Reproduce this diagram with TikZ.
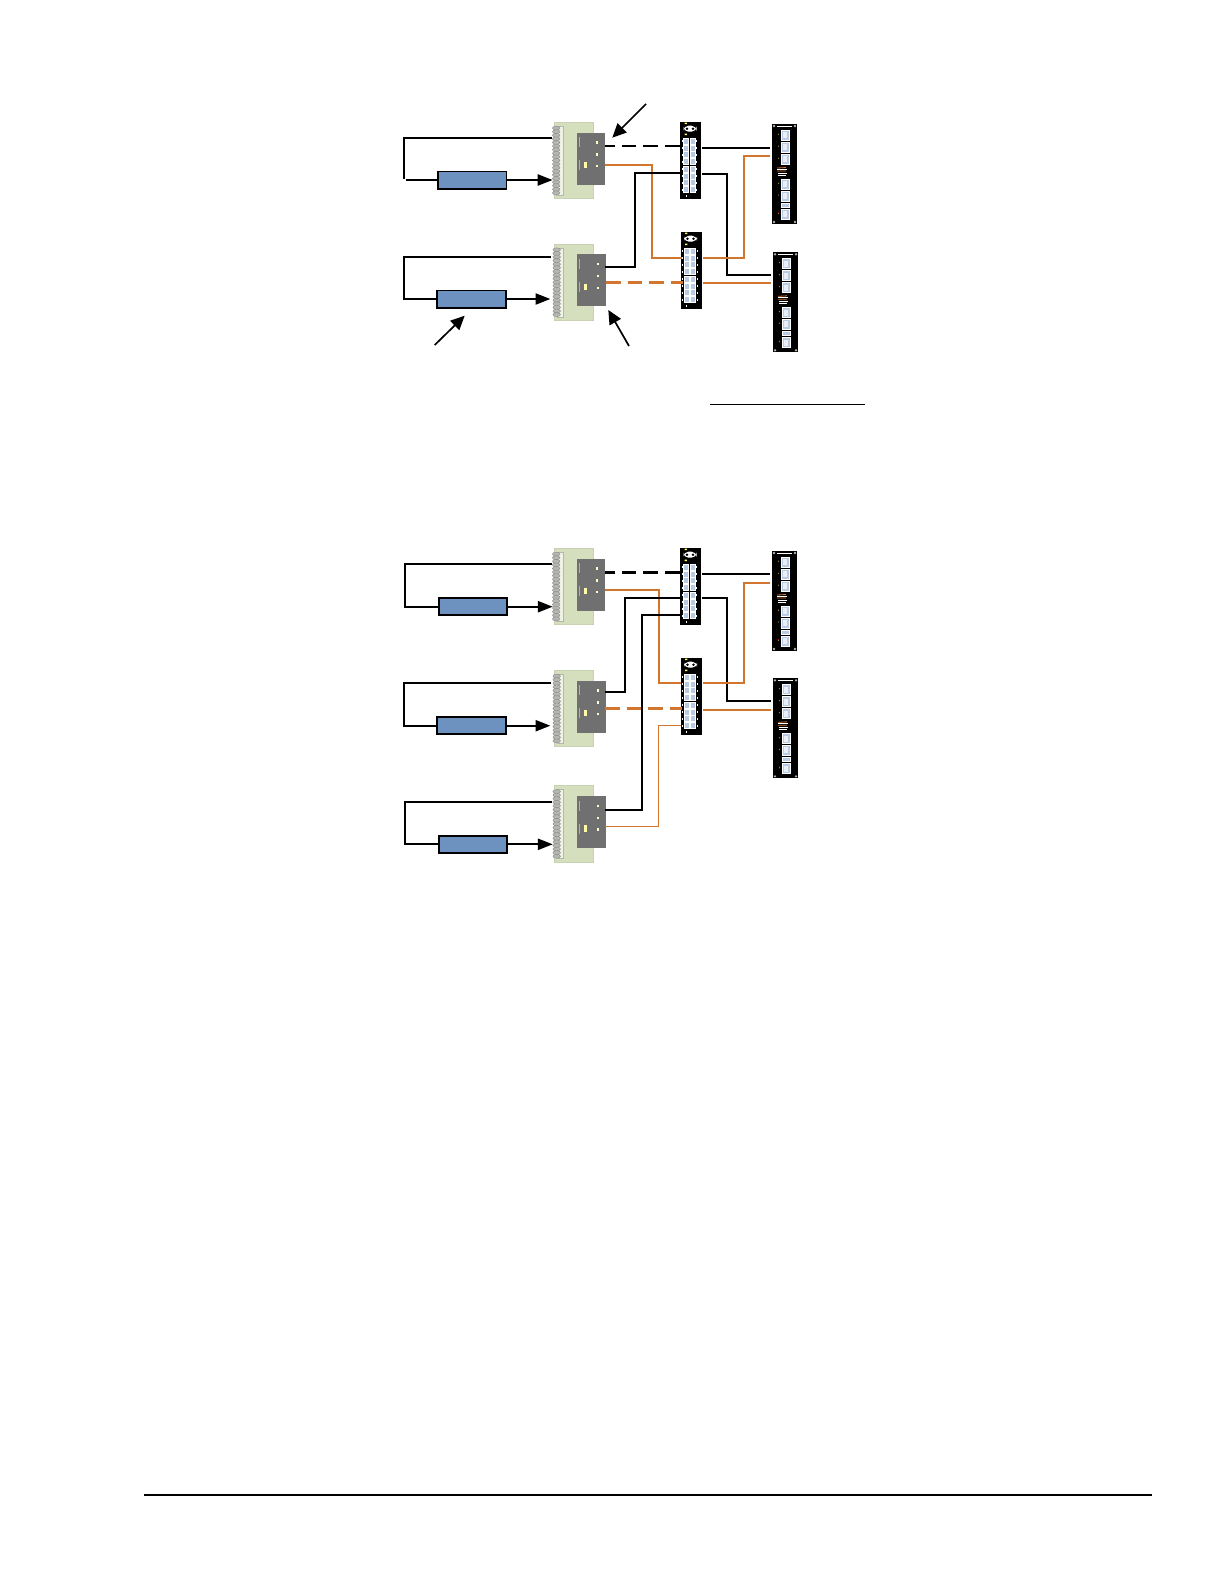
\documentclass[tikz,border=0pt]{standalone}
\usepackage{tikz}
\usetikzlibrary{arrows.meta}

\definecolor{cardgreen}{HTML}{D6DFBD}
\definecolor{stripgray}{HTML}{B4B6B0}
\definecolor{plategray}{HTML}{707070}
\definecolor{boxblue}{HTML}{6E92C0}
\definecolor{wireorange}{HTML}{D2752F}
\definecolor{portblue}{HTML}{B9CBE3}

\tikzset{
    cardbox/.style={draw=cardgreen!85!gray, line width=0.4pt, fill=cardgreen, inner sep=0pt, outer sep=0pt,
        anchor=north west, minimum width=19.5bp, minimum height=38.2bp},
    platebox/.style={fill=plategray, inner sep=0pt, outer sep=0pt,
        anchor=north west, minimum width=14.2bp, minimum height=26bp},
    switchbox/.style={fill=black, inner sep=0pt, outer sep=0pt,
        anchor=north west, minimum width=10.7bp, minimum height=38.2bp},
    panelbox/.style={fill=black, inner sep=0pt, outer sep=0pt,
        anchor=north west, minimum width=12.5bp, minimum height=50bp},
    bluebox/.style={draw=black, line width=0.9pt, fill=boxblue, inner sep=0pt, outer sep=0pt,
        minimum width=34.2bp, minimum height=8.6bp},
    wire/.style={draw=black, line width=0.85pt},
    orangewire/.style={draw=wireorange, line width=0.9pt},
    orangethin/.style={draw=wireorange, line width=0.55pt},
    dashblack/.style={draw=black, line width=1.3pt, dash pattern=on 7.4pt off 3.4pt, dash phase=2.4pt},
    dashorange/.style={draw=wireorange, line width=1.6pt, dash pattern=on 7.4pt off 3.4pt},
    feed/.style={wire, -{Triangle[length=7.4bp, width=5.6bp]}},
    pointer/.style={draw=black, line width=0.85pt, -{Triangle[length=7bp, width=6.4bp]}},
}

% terminal card with grey plate
\newcommand{\ioCard}[3]{
\begin{scope}[shift={(#2,#3)}]
    \node[cardbox] (#1) at (0,0) {};
    \draw[stripgray, fill=cardgreen!40!white, line width=0.4pt] (2.7,4) rectangle (9.3,73);
    \foreach \s in {0,...,18}
        \filldraw[fill=stripgray, draw=gray, line width=0.15pt] (2.2,5.8+3.6*\s) ellipse (3.8 and 2);
    \node[platebox] (#1plate) at (22.7,10.4) {};
    \draw[white!45!plategray, line width=0.3pt] (25,15) -- (25,25) (25,38) -- (25,48);
    \foreach \py in {9.6,21.6,33.3}
        \fill[white!80!yellow] (42,10.4+\py-1.2) rectangle +(2.4,2.4);
    \fill[yellow!35!white] (29.5,39.5) rectangle +(3,6.5);
\end{scope}
}

% narrow switch with two rows of ports
\newcommand{\swPanel}[3]{
\begin{scope}[shift={(#2,#3)}]
    \node[switchbox] (#1) at (0,0) {};
    \fill[white, rounded corners=2.5pt] (3.5,3.4) rectangle (16.5,9.4);
    \fill[black] (7,6.4) circle (1.4) (13,6.4) circle (1.4);
    \fill[yellow!60!white] (4.5,0.3) rectangle +(2.4,1.6) (4.5,11.2) rectangle +(2.4,1.6);
    \foreach \py in {18.7,25.5,32.4,39.4,47,54,60.4,67.4} {
        \fill[portblue, draw=white, line width=0.3pt] (3.5,\py-3) rectangle +(5,6);
        \fill[portblue, draw=white, line width=0.3pt] (10.2,\py-3) rectangle +(5,6);
        \fill[white] (1.5,\py-1) rectangle +(1,2);
        \fill[white] (16,\py-1) rectangle +(1,2);
    }
    \draw[white, line width=0.3pt] (6,72.5) -- (6,75);
\end{scope}
}

% tall patch panel
\newcommand{\patchPanel}[3]{
\begin{scope}[shift={(#2,#3)}]
    \node[panelbox] (#1) at (0,0) {};
    \draw[white, line width=0.4pt] (5,2) -- (20,2);
    \foreach \cx/\cy in {2/2,23/2,2/98,23/98}
        \fill[white!70!black] (\cx,\cy) circle (1.3);
    \foreach \py in {11.3,23.3,35.3,60.3,72,90.3} {
        \fill[portblue, draw=white, line width=0.4pt] (9.3,\py-5) rectangle +(8,10);
        \fill[white!70!portblue] (11.3,\py-3) rectangle +(3.6,6);
        \fill[yellow!50!black] (6.5,\py-1) circle (0.7);
    }
    \fill[portblue, draw=white, line width=0.4pt] (9.3,79.5) rectangle +(8,4);
    \fill[red!70!black] (6.5,88.5) circle (0.6);
    \draw[wireorange, line width=0.4pt] (5,44) -- (14,43.5) (5,47) -- (14,47);
    \draw[white, line width=0.4pt] (5,45.5) -- (15,45.5) (6,49) -- (15,49) (6,51.5) -- (14,51.5);
\end{scope}
}

\begin{document}
\begin{tikzpicture}[x=0.5bp, y=-0.5bp]

\useasboundingbox (0,0) rectangle (1224,1584);

% Upper figure: devices
\ioCard{cardA}{554}{122.3}
\ioCard{cardB}{554.5}{244}
\swPanel{swA}{680}{122.3}
\swPanel{swB}{680.5}{232.3}
\patchPanel{panelA}{772}{124}
\patchPanel{panelB}{773}{252.3}
\node[bluebox] (blueA) at (472.2,180) {};
\node[bluebox] (blueB) at (471.5,299) {};

% Upper figure: end points
\coordinate (cardAtop) at (552,138);
\coordinate (cardAin) at (552.5,180);
\coordinate (cardBtop) at (551,256.7);
\coordinate (cardBin) at (550.3,299);
\coordinate (plateAk) at (605,146);
\coordinate (plateAo) at (605,165);
\coordinate (plateBk) at (605,267);
\coordinate (plateBo) at (606,282.3);
\coordinate (swAkin) at (680,146);
\coordinate (swAkdn) at (680,173);
\coordinate (swBoin) at (682,258);
\coordinate (swBodn) at (683,282.3);
\coordinate (swAk) at (702.3,148);
\coordinate (swAd) at (702.3,174);
\coordinate (swBo) at (703,258);
\coordinate (swBt) at (703.3,283);
\coordinate (panelAk) at (770,148);
\coordinate (panelAo) at (770,156);
\coordinate (panelBk) at (770.7,274.7);
\coordinate (panelBo) at (770.7,283);

% Upper figure: loops
\draw[wire] (cardAtop) -- ++(-148,0) -- ++(0,41);
\draw[wire] (blueA.west) -- ++(-32,0);
\draw[feed] (blueA.east) -- (cardAin);
\draw[wire] (cardBtop) -- ++(-147.3,0) |- (blueB.west);
\draw[feed] (blueB.east) -- (cardBin);

% Upper figure: links
\draw[dashblack] (plateAk) -- (swAkin);
\draw[orangewire] (plateAo) -- ++(47.3,0) |- (swBoin);
\draw[wire] (swAkdn) -- ++(-45,0) |- (plateBk);
\draw[dashorange] (plateBo) -- (swBodn);
\draw[wire] (swAk) -- (panelAk);
\draw[wire] (swAd) -- ++(24.4,0) |- (panelBk);
\draw[orangewire] (swBo) -- ++(41,0) |- (panelAo);
\draw[orangethin] (swBt) -- (panelBo);

% Pointers and rule
\coordinate (tipA) at (646,104);
\coordinate (tipAend) at (612.3,137.7);
\coordinate (tipB) at (434.7,345);
\coordinate (tipBend) at (464.7,315.7);
\coordinate (tipC) at (629,346);
\coordinate (tipCend) at (608.3,310);
\draw[pointer] (tipA) -- (tipAend);
\draw[pointer] (tipB) -- (tipBend);
\draw[pointer] (tipC) -- (tipCend);
\coordinate (ruleL) at (710,404.5);
\coordinate (ruleR) at (864.5,404.5);
\draw[black, line width=0.5pt] (ruleL) -- (ruleR);

% Lower figure: devices
\ioCard{cardC}{554}{548.3}
\ioCard{cardD}{554.5}{670.3}
\ioCard{cardE}{554.5}{785.7}
\swPanel{swC}{680}{548.3}
\swPanel{swD}{680.5}{658.3}
\patchPanel{panelC}{772}{551}
\patchPanel{panelD}{773}{678.3}
\node[bluebox] (blueC) at (473,606.7) {};
\node[bluebox] (blueD) at (471.5,725.7) {};
\node[bluebox] (blueE) at (473,844.3) {};

% Lower figure: end points
\coordinate (cardCtop) at (552,564);
\coordinate (cardCin) at (552.7,606.7);
\coordinate (cardDtop) at (551,683);
\coordinate (cardDin) at (550.3,725.7);
\coordinate (cardEtop) at (552,802);
\coordinate (cardEin) at (552.7,844.3);
\coordinate (plateCk) at (605,572.7);
\coordinate (plateCo) at (605,590);
\coordinate (plateDk) at (605,691.7);
\coordinate (plateDo) at (605,708.3);
\coordinate (plateEk) at (605,810.3);
\coordinate (plateEo) at (605,826.7);
\coordinate (swCkin) at (680,572.7);
\coordinate (swCkmid) at (680,598);
\coordinate (swCklow) at (680,615.3);
\coordinate (swDoin) at (680.5,683);
\coordinate (swDodn) at (682,708.3);
\coordinate (swDolow) at (681,725.7);
\coordinate (swCk) at (702.3,574);
\coordinate (swCd) at (702.3,598);
\coordinate (swDo) at (703,683);
\coordinate (swDt) at (703.3,710);
\coordinate (panelCk) at (770,574);
\coordinate (panelCo) at (770,582.7);
\coordinate (panelDk) at (770.7,701.3);
\coordinate (panelDo) at (770.7,710);

% Lower figure: loops
\draw[wire] (cardCtop) -- ++(-147.3,0) |- (blueC.west);
\draw[feed] (blueC.east) -- (cardCin);
\draw[wire] (cardDtop) -- ++(-147.3,0) |- (blueD.west);
\draw[feed] (blueD.east) -- (cardDin);
\draw[wire] (cardEtop) -- ++(-147.3,0) |- (blueE.west);
\draw[feed] (blueE.east) -- (cardEin);

% Lower figure: links
\draw[dashblack] (plateCk) -- (swCkin);
\draw[orangewire] (plateCo) -- ++(53.7,0) |- (swDoin);
\draw[wire] (swCkmid) -- ++(-55,0) |- (plateDk);
\draw[wire] (swCklow) -- ++(-38,0) |- (plateEk);
\draw[dashorange] (plateDo) -- (swDodn);
\draw[orangethin] (swDolow) -- ++(-22.3,0) |- (plateEo);
\draw[wire] (swCk) -- (panelCk);
\draw[wire] (swCd) -- ++(24.4,0) |- (panelDk);
\draw[orangewire] (swDo) -- ++(41,0) |- (panelCo);
\draw[orangewire] (swDt) -- (panelDo);

% Footer rule
\coordinate (footL) at (143.5,1495);
\coordinate (footR) at (1152,1495);
\draw[black, line width=1pt] (footL) -- (footR);

\end{tikzpicture}
\end{document}
